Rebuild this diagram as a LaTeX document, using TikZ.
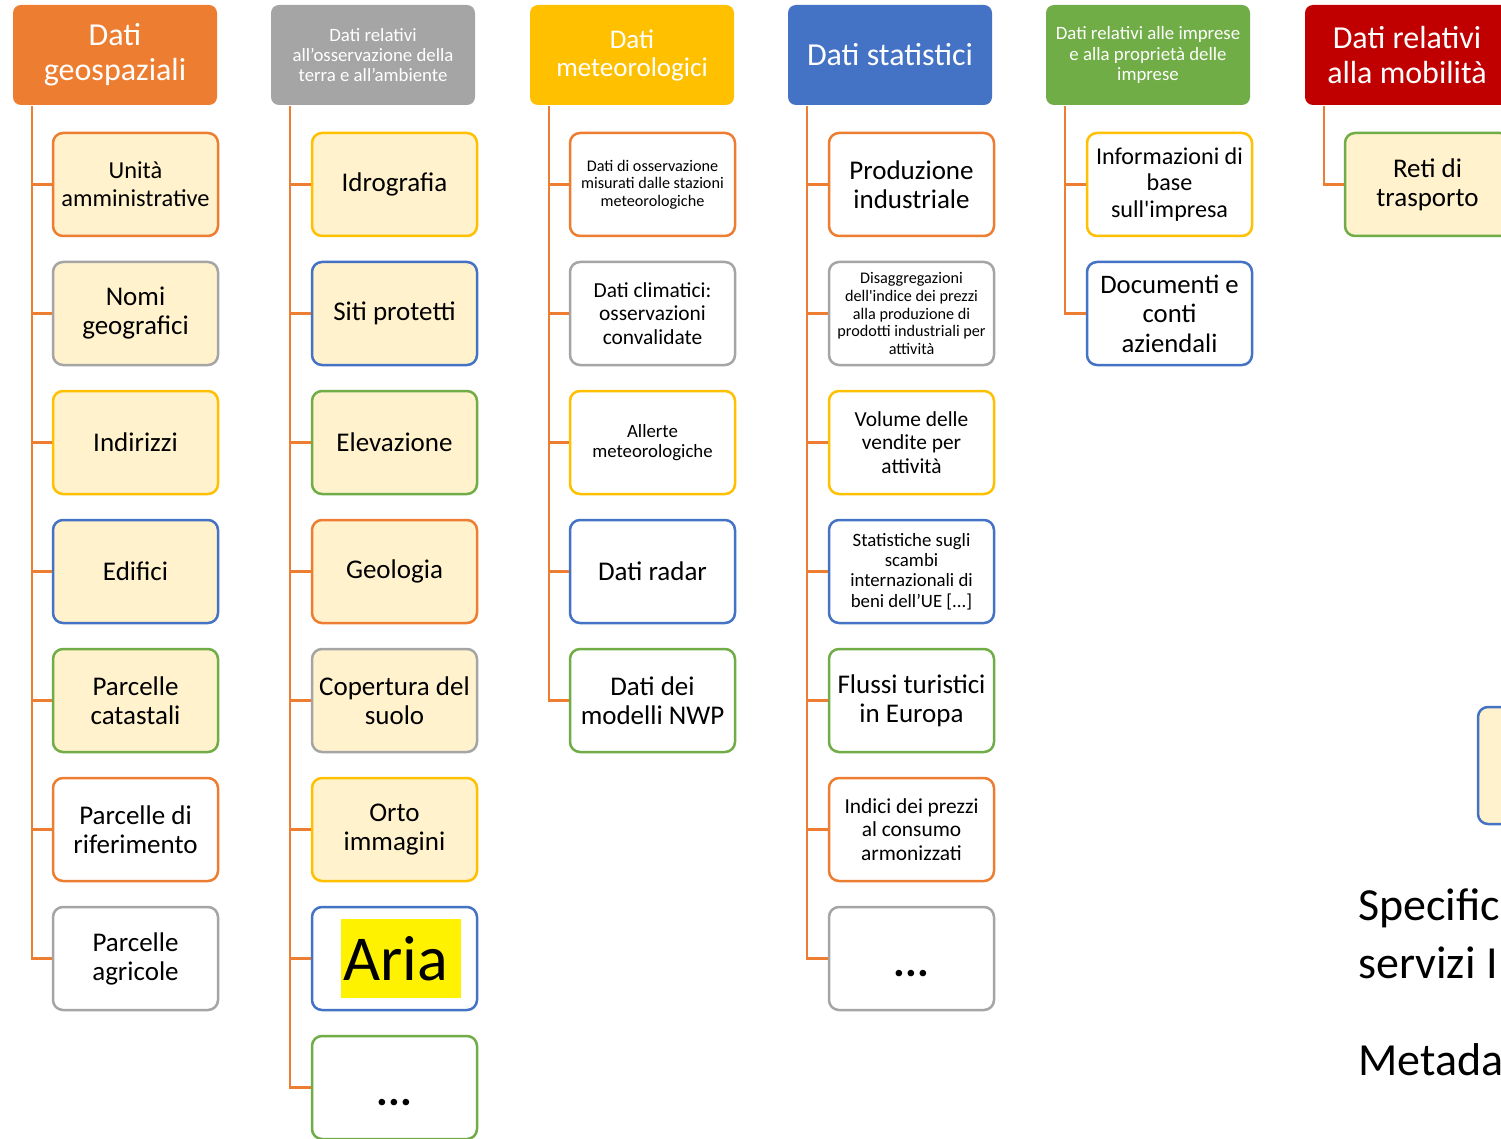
\documentclass[tikz,border=0pt]{standalone}
\usepackage{fontspec}
\setmainfont{Carlito}[Ligatures=TeXOff]
\definecolor{corange}{HTML}{ED7D31}
\definecolor{cgray}{HTML}{A5A5A5}
\definecolor{cyellow}{HTML}{FFC000}
\definecolor{cblue}{HTML}{4472C4}
\definecolor{cgreen}{HTML}{70AD47}
\definecolor{cred}{HTML}{C00000}
\definecolor{cream}{HTML}{FFF2CC}

\begin{document}
\begin{tikzpicture}[x = 1pt, y = -1pt, line width = 2.5pt,
                        head/.style = {rounded corners = 8pt, minimum width = 204pt, minimum height = 100pt,
                                       text = white, align = center, inner sep = 0pt},
                        leaf/.style = {draw, rounded corners = 10pt, minimum width = 165pt, minimum height = 103pt,
                                       align = center, inner sep = 0pt},
                        dots/.style = {font = \fontsize{44}{46}\selectfont\bfseries, text height = 36pt, text depth = 0pt},
                        conn/.style = {draw = corange, line width = 2.5pt},
                        f16/.style = {font = \fontsize{16.2}{17.6}\selectfont},
                        f18/.style = {font = \fontsize{18.8}{20.3}\selectfont},
                        f21/.style = {font = \fontsize{21.4}{23.2}\selectfont},
                        f24/.style = {font = \fontsize{24.4}{28}\selectfont},
                        f27/.style = {font = \fontsize{27}{29}\selectfont},
                        f32/.style = {font = \fontsize{32}{35}\selectfont}]
      \clip (0, 0) rectangle (1501, 1139);
      \fill [white] (0, 0) rectangle (1501, 1139);

      % headers
      \node [head, fill = corange, f32] (h1) at (115, 55){Dati\\geospaziali};
      \node [head, fill = cgray, f18] (h2) at (373, 55){Dati relativi\\all’osservazione della\\terra e all’ambiente};
      \node [head, fill = cyellow, font = \fontsize{27}{28}\selectfont] (h3) at (632, 55){Dati\\meteorologici};
      \node [head, fill = cblue, f32] (h4) at (890, 55){Dati statistici};
      \node [head, fill = cgreen, f18] (h5) at (1148, 55){Dati relativi alle imprese\\e alla proprietà delle\\imprese};
      \node [head, fill = cred, f32] (h6) at (1407, 55){Dati relativi\\alla mobilità};

      % geospaziali
      \node [leaf, draw = corange, fill = cream, f24] (a1) at (135.5, 184.5){Unità\\amministrative};
      \node [leaf, draw = cgray, fill = cream, f27] (a2) at (135.5, 313.5){Nomi\\geografici};
      \node [leaf, draw = cyellow, fill = cream, f27] (a3) at (135.5, 442.5){Indirizzi};
      \node [leaf, draw = cblue, fill = cream, f27] (a4) at (135.5, 571.5){Edifici};
      \node [leaf, draw = cgreen, fill = cream, f27] (a5) at (135.5, 700.5){Parcelle\\catastali};
      \node [leaf, draw = corange, fill = white, f27] (a6) at (135.5, 829.5){Parcelle di\\riferimento};
      \node [leaf, draw = cgray, fill = white, f27] (a7) at (135.5, 958.5){Parcelle\\agricole};

      % osservazione della terra
      \node [leaf, draw = cyellow, fill = cream, f27] (b1) at (394.5, 184.5){Idrografia};
      \node [leaf, draw = cblue, fill = cream, f27] (b2) at (394.5, 313.5){Siti protetti};
      \node [leaf, draw = cgreen, fill = cream, f27] (b3) at (394.5, 442.5){Elevazione};
      \node [leaf, draw = corange, fill = cream, f27] (b4) at (394.5, 571.5){Geologia};
      \node [leaf, draw = cgray, fill = cream, f27] (b5) at (394.5, 700.5){Copertura del\\suolo};
      \node [leaf, draw = cyellow, fill = cream, f27] (b6) at (394.5, 829.5){Orto\\immagini};
      \node [leaf, draw = cblue, fill = white, font = \fontsize{64}{66}\selectfont] (b7) at (394.5, 958.5)
            {\hspace*{13pt}\raisebox{3pt}{\setlength{\fboxsep}{4pt}\colorbox{yellow}{\parbox[c][71pt][c]{112pt}{\raggedright\hspace*{-2pt}Aria}}}};
      \node [leaf, draw = cgreen, fill = white, dots] (b8) at (394.5, 1087.5){...};

      % meteorologici
      \node [leaf, draw = corange, fill = white, f16] (c1) at (652.5, 184.5){Dati di osservazione\\misurati dalle stazioni\\meteorologiche};
      \node [leaf, draw = cgray, fill = white, f21] (c2) at (652.5, 313.5){Dati climatici:\\osservazioni\\convalidate};
      \node [leaf, draw = cyellow, fill = white, f18] (c3) at (652.5, 442.5){Allerte\\meteorologiche};
      \node [leaf, draw = cblue, fill = white, f27] (c4) at (652.5, 571.5){Dati radar};
      \node [leaf, draw = cgreen, fill = white, f27] (c5) at (652.5, 700.5){Dati dei\\modelli NWP};

      % statistici
      \node [leaf, draw = corange, fill = white, f27] (d1) at (911.5, 184.5){Produzione\\industriale};
      \node [leaf, draw = cgray, fill = white, f16] (d2) at (911.5, 313.5)
            {Disaggregazioni\\dell'indice dei prezzi\\alla produzione di\\prodotti industriali per\\attività};
      \node [leaf, draw = cyellow, fill = white, f21] (d3) at (911.5, 442.5){Volume delle\\vendite per\\attività};
      \node [leaf, draw = cblue, fill = white, f18] (d4) at (911.5, 571.5)
            {Statistiche sugli\\scambi\\internazionali di\\beni dell’UE [...]};
      \node [leaf, draw = cgreen, fill = white, f27] (d5) at (911.5, 700.5){Flussi turistici\\in Europa};
      \node [leaf, draw = corange, fill = white, f21] (d6) at (911.5, 829.5){Indici dei prezzi\\al consumo\\armonizzati};
      \node [leaf, draw = cgray, fill = white, dots] (d7) at (911.5, 958.5){...};

      % imprese
      \node [leaf, draw = cyellow, fill = white, font = \fontsize{24.1}{26.5}\selectfont] (e1) at (1169.5, 184.5)
            {Informazioni di\\base\\sull'impresa};
      \node [leaf, draw = cblue, fill = white, font = \fontsize{26.7}{29.5}\selectfont] (e2) at (1169.5, 313.5)
            {Documenti e\\conti\\aziendali};

      % mobilita
      \node [leaf, draw = cgreen, fill = cream, f27] (f1) at (1427.5, 184.5){Reti di\\trasporto};
      \node [leaf, draw = cblue, fill = cream, minimum height = 117pt] (part) at (1560.5, 765.5){};

      % connectors
      \foreach \c/\h/\n in {a/h1/7, b/h2/8, c/h3/5, d/h4/7, e/h5/2, f/h6/1}
        \foreach \i in {1,...,\n}
          \draw [conn] ([xshift = 20pt]\h.south west) |- (\c\i.west);

      % text on the right
      \node [anchor = base west, inner sep = 0pt, font = \fontsize{46}{56}\selectfont] (spec) at (1357, 920){Specific};
      \node [anchor = base west, inner sep = 0pt, font = \fontsize{46}{56}\selectfont] (serv) at (1357, 978){servizi I};
      \node [anchor = base west, inner sep = 0pt, font = \fontsize{46}{56}\selectfont] (meta) at (1357, 1075){Metada};
    \end{tikzpicture}
\end{document}
